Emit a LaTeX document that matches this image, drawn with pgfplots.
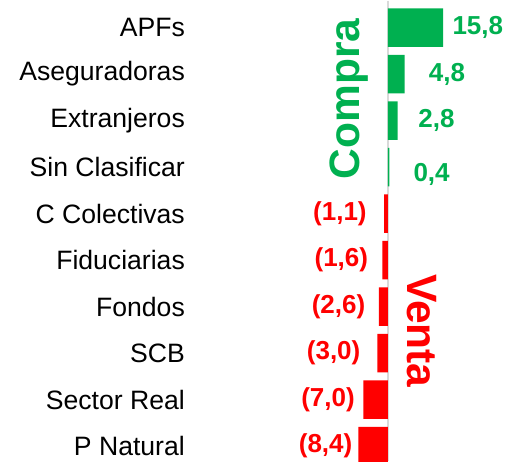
\documentclass[border=0pt]{standalone}
\usepackage{pgfplots}
\pgfplotsset{compat=1.18}
\usepackage{fontspec}
\setmainfont{Liberation Sans}
\definecolor{cgreen}{HTML}{00B050}
\definecolor{cred}{HTML}{FF0000}
\begin{document}
\begin{tikzpicture}
\begin{axis}[
  scale only axis, width=508pt, height=461pt,
  xmin=-110.8, xmax=34.3, ymin=-0.58, ymax=9.33, y dir=reverse,
  axis line style={draw=none},
  xtick=\empty,
  ytick={0,...,9},
  yticklabels={APFs,Aseguradoras,Extranjeros,Sin Clasificar,C Colectivas,Fiduciarias,Fondos,SCB,Sector Real,P Natural},
  major tick length=0pt,
  yticklabel style={anchor=east, font=\fontsize{26.6}{31}\selectfont, xshift=185pt, inner sep=0pt},
  extra x ticks={0}, extra x tick labels={},
  extra x tick style={grid=major, major grid style={color=black!15, line width=1.3pt}},
  bar width=38.5pt,
]
\addplot[xbar, bar shift=0pt, fill=cgreen, draw=none] coordinates {(15.8,0) (4.8,1) (2.8,2) (0.4,3)};
\addplot[xbar, bar shift=0pt, fill=cred, draw=none] coordinates {(-1.1,4) (-1.6,5) (-2.6,6) (-3.0,7) (-7.0,8) (-8.4,9.0)};
\addplot[only marks, mark=*, mark size=0pt, mark options={draw=none, fill=none},
  nodes near coords, point meta=explicit symbolic,
  every node near coord/.append style={anchor=center, text=cgreen, font=\bfseries\fontsize{26}{30}\selectfont}]
  table[meta=lab] {
x y lab
25.7 0 15,8
16.9 1 4,8
13.9 2 2,8
12.5 3.16 0,4
};
\addplot[only marks, mark=*, mark size=0pt, mark options={draw=none, fill=none},
  nodes near coords, point meta=explicit symbolic,
  every node near coord/.append style={anchor=center, text=cred, font=\bfseries\fontsize{26}{30}\selectfont}]
  table[meta=lab] {
x y lab
-13.7 4 (1,1)
-13.3 5 (1,6)
-14.1 6 (2,6)
-15.5 7 (3,0)
-17.1 8 (7,0)
-17.8 9 (8,4)
};
\node[rotate=90, text=cgreen, font=\bfseries\fontsize{42.5}{50}\selectfont, inner sep=0pt] at (axis cs:-11.1,1.53) {Compra};
\node[rotate=-90, text=cred, font=\bfseries\fontsize{42.5}{50}\selectfont, inner sep=0pt] at (axis cs:9.7,6.52) {Venta};
\end{axis}
\end{tikzpicture}
\end{document}
